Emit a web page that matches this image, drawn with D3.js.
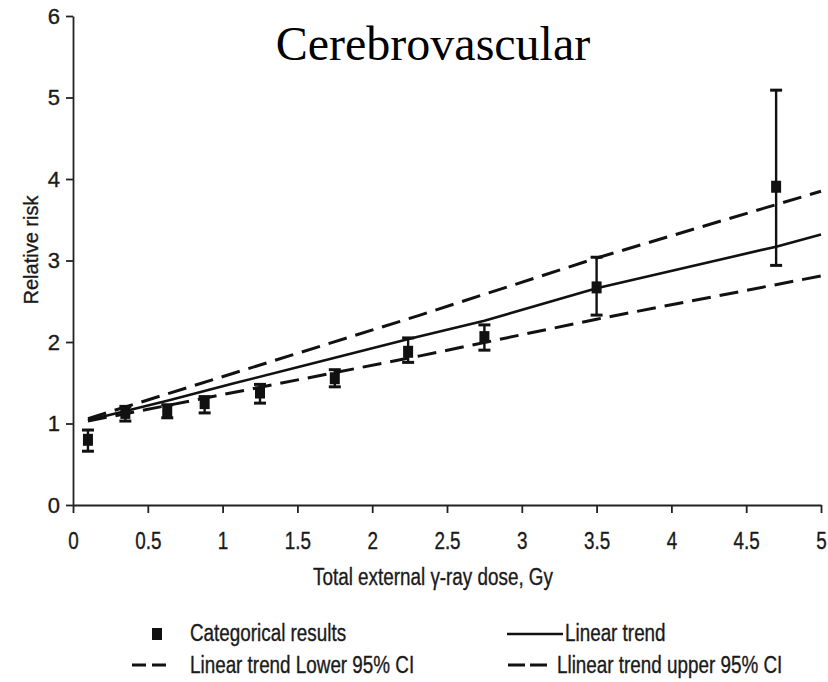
<!DOCTYPE html>
<html>
<head>
<meta charset="utf-8">
<script src="https://cdn.jsdelivr.net/npm/d3@7"></script>
<style>
  html, body { margin: 0; padding: 0; background: #fff; }
  svg { display: block; }
</style>
</head>
<body>
<script>
// ---------- data ----------
const doses     = [0.1, 0.35, 0.63, 0.88, 1.25, 1.75, 2.24, 2.75, 3.5, 4.7];
const rr        = [0.80, 1.13, 1.145, 1.25, 1.38, 1.555, 1.88, 2.06, 2.67, 3.905];
const rrLower   = [0.66, 1.03, 1.07, 1.13, 1.25, 1.45, 1.75, 1.90, 2.33, 2.94];
const rrUpper   = [0.92, 1.21, 1.23, 1.33, 1.48, 1.66, 2.05, 2.21, 3.04, 5.09];

const trendDose = [0.1, 0.63, 1.07, 1.5, 2.25, 2.75, 3.5, 4.7, 5.0];
const trendRR   = [1.04, 1.28, 1.49, 1.69, 2.04, 2.26, 2.66, 3.17, 3.32];

const ciDose    = [0.1, 2.32, 3.5, 5.0];
const ciLowerRR = [1.03, 1.83, 2.28, 2.81];
const ciUpperRR = [1.06, 2.33, 3.03, 3.85];

const xTicks = [0, 0.5, 1, 1.5, 2, 2.5, 3, 3.5, 4, 4.5, 5];
const xTickLabels = ["0", "0.5", "1", "1.5", "2", "2.5", "3", "3.5", "4", "4.5", "5"];
const yTicks = [0, 1, 2, 3, 4, 5, 6];

const title = "Cerebrovascular";
const xTitle = "Total external \u03B3-ray dose, Gy";
const yTitle = "Relative risk";
const legendLabels = ["Categorical results", "Linear trend", "Linear trend Lower 95% CI", "Llinear trend upper 95% CI"];

// ---------- drawing ----------
const W = 828, H = 682;
const INK = "#111";
const TXT = "#1a1a1a";
const sans = "'Liberation Sans', Arial, Helvetica, sans-serif";
const serif = "'Liberation Serif', 'Times New Roman', Times, serif";

const svg = d3.select("body").append("svg").attr("width", W).attr("height", H);

const x = d3.scaleLinear().domain([0, 5]).range([73, 821]);
const y = d3.scaleLinear().domain([0, 6]).range([505, 16]);

function inkText(sel) {
  sel.attr("fill", TXT).attr("stroke", TXT).attr("stroke-width", 0.35);
}

// y axis
const yAxis = svg.append("g")
  .attr("transform", `translate(${x(0)},0)`)
  .call(d3.axisLeft(y).tickValues(yTicks).tickSize(7).tickSizeOuter(0).tickPadding(6).tickFormat(d3.format("d")));
yAxis.selectAll("path, line").attr("stroke", "#222").attr("stroke-width", 1.8);
yAxis.selectAll("text").attr("font-family", sans).attr("font-size", 22).call(inkText);

// x axis
const xAxis = svg.append("g")
  .attr("transform", `translate(0,${y(0)})`)
  .call(d3.axisBottom(x).tickValues(xTicks).tickSize(8).tickSizeOuter(0).tickPadding(20)
        .tickFormat((d, i) => xTickLabels[i]));
xAxis.selectAll("path, line").attr("stroke", "#222").attr("stroke-width", 1.8);
xAxis.selectAll("text").attr("font-family", sans).attr("font-size", 23)
  .attr("transform", "scale(0.82,1)").call(inkText);

// lines
const line = d3.line().x(d => x(d[0])).y(d => y(d[1]));
const trendPts = trendDose.map((d, i) => [d, trendRR[i]]);
const lowPts = ciDose.map((d, i) => [d, ciLowerRR[i]]);
const upPts = ciDose.map((d, i) => [d, ciUpperRR[i]]);

svg.append("path").datum(upPts).attr("d", line)
  .attr("fill", "none").attr("stroke", INK).attr("stroke-width", 3).attr("stroke-dasharray", "19,9");
svg.append("path").datum(lowPts).attr("d", line)
  .attr("fill", "none").attr("stroke", INK).attr("stroke-width", 3).attr("stroke-dasharray", "19,9");
svg.append("path").datum(trendPts).attr("d", line)
  .attr("fill", "none").attr("stroke", INK).attr("stroke-width", 2.6);

// error bars + squares
const pts = doses.map((d, i) => ({ d, v: rr[i], lo: rrLower[i], hi: rrUpper[i] }));
const eg = svg.append("g");
eg.selectAll("line.v").data(pts).join("line")
  .attr("x1", p => x(p.d)).attr("x2", p => x(p.d))
  .attr("y1", p => y(p.lo)).attr("y2", p => y(p.hi))
  .attr("stroke", INK).attr("stroke-width", 2.4);
eg.selectAll("line.ct").data(pts).join("line")
  .attr("x1", p => x(p.d) - 6).attr("x2", p => x(p.d) + 6)
  .attr("y1", p => y(p.hi)).attr("y2", p => y(p.hi))
  .attr("stroke", INK).attr("stroke-width", 3);
eg.selectAll("line.cb").data(pts).join("line")
  .attr("x1", p => x(p.d) - 6).attr("x2", p => x(p.d) + 6)
  .attr("y1", p => y(p.lo)).attr("y2", p => y(p.lo))
  .attr("stroke", INK).attr("stroke-width", 3);
eg.selectAll("rect").data(pts).join("rect")
  .attr("x", p => x(p.d) - 5).attr("y", p => y(p.v) - 6)
  .attr("width", 10).attr("height", 12).attr("fill", INK);

// title
svg.append("text").attr("x", 433).attr("y", 60).attr("text-anchor", "middle")
  .attr("font-family", serif).attr("font-size", 48).attr("fill", "#000").text(title);

// axis titles
svg.append("text").attr("transform", "translate(433,585) scale(0.82,1)").attr("text-anchor", "middle")
  .attr("font-family", sans).attr("font-size", 23).call(inkText).text(xTitle);
svg.append("text").attr("transform", "translate(38,250) rotate(-90)").attr("text-anchor", "middle")
  .attr("font-family", sans).attr("font-size", 20).call(inkText).text(yTitle);

// legend
const lg = svg.append("g");
lg.append("rect").attr("x", 152).attr("y", 628).attr("width", 10).attr("height", 12).attr("fill", INK);
lg.append("line").attr("x1", 507).attr("x2", 563).attr("y1", 634).attr("y2", 634)
  .attr("stroke", INK).attr("stroke-width", 2.6);
lg.append("line").attr("x1", 132).attr("x2", 166).attr("y1", 665).attr("y2", 665)
  .attr("stroke", INK).attr("stroke-width", 3).attr("stroke-dasharray", "14,6");
lg.append("line").attr("x1", 508).attr("x2", 550).attr("y1", 665).attr("y2", 665)
  .attr("stroke", INK).attr("stroke-width", 3).attr("stroke-dasharray", "17,5");

const legendPos = [[190, 641], [565, 641], [190, 673], [557, 673]];
legendLabels.forEach((t, i) => {
  lg.append("text").attr("transform", `translate(${legendPos[i][0]},${legendPos[i][1]}) scale(0.82,1)`)
    .attr("font-family", sans).attr("font-size", 23).call(inkText).text(t);
});
</script>
</body>
</html>
